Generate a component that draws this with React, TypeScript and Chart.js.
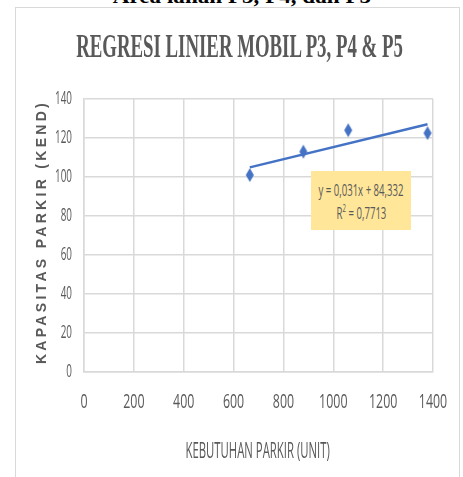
import React, { useEffect, useRef } from "react";
import { Chart, registerables } from "chart.js";

Chart.register(...registerables);

const captionText = "Area lahan P3, P4, dan P5";
const chartTitle = "REGRESI LINIER MOBIL P3, P4 & P5";
const xAxisTitle = "KEBUTUHAN PARKIR (UNIT)";
const yAxisTitle = "KAPASITAS PARKIR (KEND)";

const kebutuhanParkir = [665, 880, 1060, 1378];
const kapasitasParkir = [101, 113, 124, 122.5];

const trendSlope = 0.031;
const trendIntercept = 84.332;
const equationLabel = "y = 0,031x + 84,332";
const r2Value = "0,7713";

const xTicks = [0, 200, 400, 600, 800, 1000, 1200, 1400];
const yTicks = [0, 20, 40, 60, 80, 100, 120, 140];

const BLUE = "#4472C4";
const GRAY_TEXT = "#595959";
const GRID = "#d9d9d9";

function makeDiamond(): HTMLCanvasElement {
  const c = document.createElement("canvas");
  c.width = 10;
  c.height = 16;
  const g = c.getContext("2d")!;
  g.fillStyle = BLUE;
  g.beginPath();
  g.moveTo(5, 1);
  g.lineTo(9, 8);
  g.lineTo(5, 15);
  g.lineTo(1, 8);
  g.closePath();
  g.fill();
  return c;
}

const tickLabelPlugin = {
  id: "condensedTicks",
  afterDraw(chart: any) {
    const ctx = chart.ctx;
    const xs = chart.scales.x;
    const ys = chart.scales.y;
    ctx.save();
    ctx.fillStyle = GRAY_TEXT;
    ctx.font = "20px 'Open Sans', 'Liberation Sans', sans-serif";
    ctx.textAlign = "center";
    ctx.textBaseline = "middle";
    xTicks.forEach((v) => {
      const px = xs.getPixelForValue(v);
      ctx.save();
      ctx.translate(px, 402);
      ctx.scale(0.62, 1);
      ctx.fillText(String(v), 0, 0);
      ctx.restore();
    });
    ctx.font = "18px 'Open Sans', 'Liberation Sans', sans-serif";
    ctx.textAlign = "right";
    yTicks.forEach((v) => {
      const py = ys.getPixelForValue(v);
      ctx.save();
      ctx.translate(72, py);
      ctx.scale(0.55, 1);
      ctx.fillText(String(v), 0, 0);
      ctx.restore();
    });
    ctx.restore();
  },
};

const centerRow = (top: number, extra: React.CSSProperties): React.CSSProperties => ({
  position: "absolute",
  left: 0,
  width: 463,
  top,
  display: "flex",
  justifyContent: "center",
  whiteSpace: "nowrap",
  ...extra,
});

export default function App() {
  const canvasRef = useRef<HTMLCanvasElement | null>(null);

  useEffect(() => {
    if (!canvasRef.current) return;
    const xMin = Math.min(...kebutuhanParkir);
    const xMax = Math.max(...kebutuhanParkir);
    const trend = [
      { x: xMin, y: trendSlope * xMin + trendIntercept },
      { x: xMax, y: trendSlope * xMax + trendIntercept },
    ];
    const chart = new Chart(canvasRef.current, {
      type: "scatter",
      data: {
        datasets: [
          {
            type: "line",
            label: "Linear",
            data: trend,
            borderColor: BLUE,
            borderWidth: 2.5,
            pointRadius: 0,
            fill: false,
          } as any,
          {
            label: "Kapasitas",
            data: kebutuhanParkir.map((x, i) => ({ x, y: kapasitasParkir[i] })),
            pointStyle: makeDiamond(),
            backgroundColor: BLUE,
            borderColor: BLUE,
          },
        ],
      },
      options: {
        responsive: false,
        animation: false,
        layout: { padding: { left: 84, right: 30, top: 99, bottom: 105 } },
        plugins: {
          legend: { display: false },
          tooltip: { enabled: false },
          title: { display: false },
        },
        scales: {
          x: {
            type: "linear",
            min: 0,
            max: 1400,
            ticks: { display: false, stepSize: 200 },
            grid: { color: GRID, lineWidth: 1.5, drawTicks: false },
            border: { display: true, color: GRID, width: 1.5 },
          },
          y: {
            type: "linear",
            min: 0,
            max: 140,
            ticks: { display: false, stepSize: 20 },
            grid: { color: GRID, lineWidth: 1.5, drawTicks: false },
            border: { display: true, color: GRID, width: 1.5 },
          },
        },
      },
      plugins: [tickLabelPlugin],
    });
    return () => chart.destroy();
  }, []);

  return (
    <div
      style={{
        position: "fixed",
        left: 0,
        top: 0,
        width: 463,
        height: 477,
        overflow: "hidden",
        background: "#fff",
      }}
    >
      <div
        style={centerRow(-17, {
          fontFamily: "'Liberation Serif', serif",
          fontWeight: "bold",
          fontSize: 22,
          lineHeight: "26px",
          color: "#000",
        })}
      >
        <span style={{ display: "inline-block", transform: "scaleX(1.05)", marginLeft: 20 }}>{captionText}</span>
      </div>
      <div
        style={{
          position: "absolute",
          left: 15,
          top: 7,
          width: 445,
          height: 490,
          border: "1px solid #d9d9d9",
          boxSizing: "border-box",
        }}
      />
      <canvas
        ref={canvasRef}
        width={463}
        height={477}
        style={{ position: "absolute", left: 0, top: 0 }}
      />
      <div
        style={centerRow(28, {
          left: 8,
          fontFamily: "'Liberation Serif', serif",
          fontWeight: "bold",
          fontSize: 33,
          lineHeight: "36px",
          color: GRAY_TEXT,
        })}
      >
        <span style={{ display: "inline-block", transform: "scaleX(0.57)" }}>{chartTitle}</span>
      </div>
      <div
        style={{
          position: "absolute",
          left: 41 - 150,
          top: 232 - 10,
          width: 300,
          height: 20,
          lineHeight: "20px",
          textAlign: "center",
          transform: "rotate(-90deg)",
          fontFamily: "'Liberation Sans', sans-serif",
          fontWeight: "bold",
          fontSize: 14,
          letterSpacing: 3.3,
          color: GRAY_TEXT,
          whiteSpace: "nowrap",
        }}
      >
        {yAxisTitle}
      </div>
      <div
        style={centerRow(436, {
          left: 257 - 231,
          height: 28,
          lineHeight: "28px",
          fontFamily: "'Open Sans', 'Liberation Sans', sans-serif",
          fontSize: 21,
          color: GRAY_TEXT,
        })}
      >
        <span style={{ display: "inline-block", transform: "scaleX(0.54)" }}>{xAxisTitle}</span>
      </div>
      <div
        style={{
          position: "absolute",
          left: 311,
          top: 171,
          width: 100,
          height: 59,
          background: "#FFE699",
          color: GRAY_TEXT,
          fontFamily: "'Open Sans', 'Liberation Sans', sans-serif",
          fontSize: 16,
          textAlign: "center",
          whiteSpace: "nowrap",
        }}
      >
        <div style={{ position: "absolute", left: -50, width: 200, top: 8, lineHeight: "22px" }}>
          <span style={{ display: "inline-block", transform: "scaleX(0.6)" }}>{equationLabel}</span>
        </div>
        <div style={{ position: "absolute", left: -50, width: 200, top: 31, lineHeight: "22px" }}>
          <span style={{ display: "inline-block", transform: "scaleX(0.6)" }}>
            R<sup style={{ fontSize: 10, verticalAlign: "7px", lineHeight: 0 }}>2</sup> = {r2Value}
          </span>
        </div>
      </div>
    </div>
  );
}
